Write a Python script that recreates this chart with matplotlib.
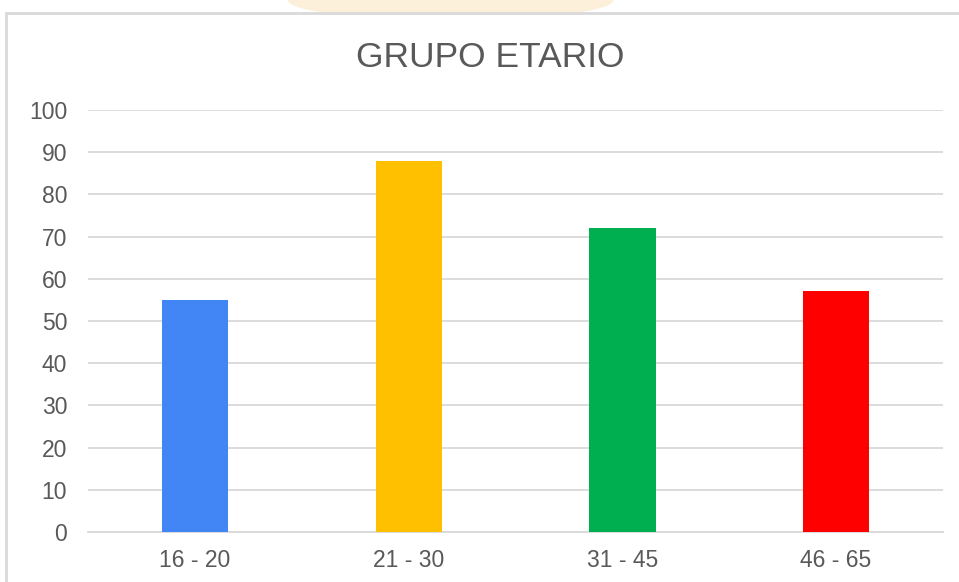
import matplotlib.pyplot as plt
from matplotlib.patches import Rectangle, Ellipse

# data
categories = ["16 - 20", "21 - 30", "31 - 45", "46 - 65"]
values = [55, 88, 72, 57]
colors = ["#4285F4", "#FFC000", "#00B050", "#FF0000"]
yticks = list(range(0, 101, 10))

plt.rcParams['font.family'] = ['Liberation Sans', 'DejaVu Sans']

fig = plt.figure(figsize=(9.59, 5.82), dpi=100)

# faint watermark peeking above the chart frame
fig.patches.append(Ellipse((0.47, 1.0), 0.34, 0.07, transform=fig.transFigure,
                           facecolor="#FDF0DA", edgecolor="none", zorder=0))
# chart frame
fig.patches.append(Rectangle((0.006, -0.01), 1.0, 0.988, transform=fig.transFigure,
                             facecolor="white", edgecolor="#D9D9D9", linewidth=2, zorder=1))

ax = fig.add_axes([0.0918, 0.0859, 0.8915, 0.7251])
ax.set_zorder(2)
ax.patch.set_alpha(0)

x = range(len(categories))
ax.bar(x, values, width=0.31, color=colors, zorder=3)

ax.set_xlim(-0.5, len(categories) - 0.5)
ax.set_ylim(0, 100)
ax.set_yticks(yticks)
ax.set_xticks(list(x))
ax.set_xticklabels(categories)

ax.grid(axis="y", color="#D9D9D9", linewidth=1.3, zorder=0)
for side in ["top", "right", "left"]:
    ax.spines[side].set_visible(False)
ax.spines["bottom"].set_color("#D9D9D9")
ax.spines["bottom"].set_linewidth(1.3)
ax.tick_params(axis="both", length=0, labelsize=16.5, labelcolor="#595959")
ax.tick_params(axis="y", pad=15)
ax.tick_params(axis="x", pad=12)

fig.text(0.511, 0.902, "GRUPO ETARIO", ha="center", va="center",
         fontsize=25.5, color="#595959", zorder=3)

fig.savefig("out.png", dpi=100)
